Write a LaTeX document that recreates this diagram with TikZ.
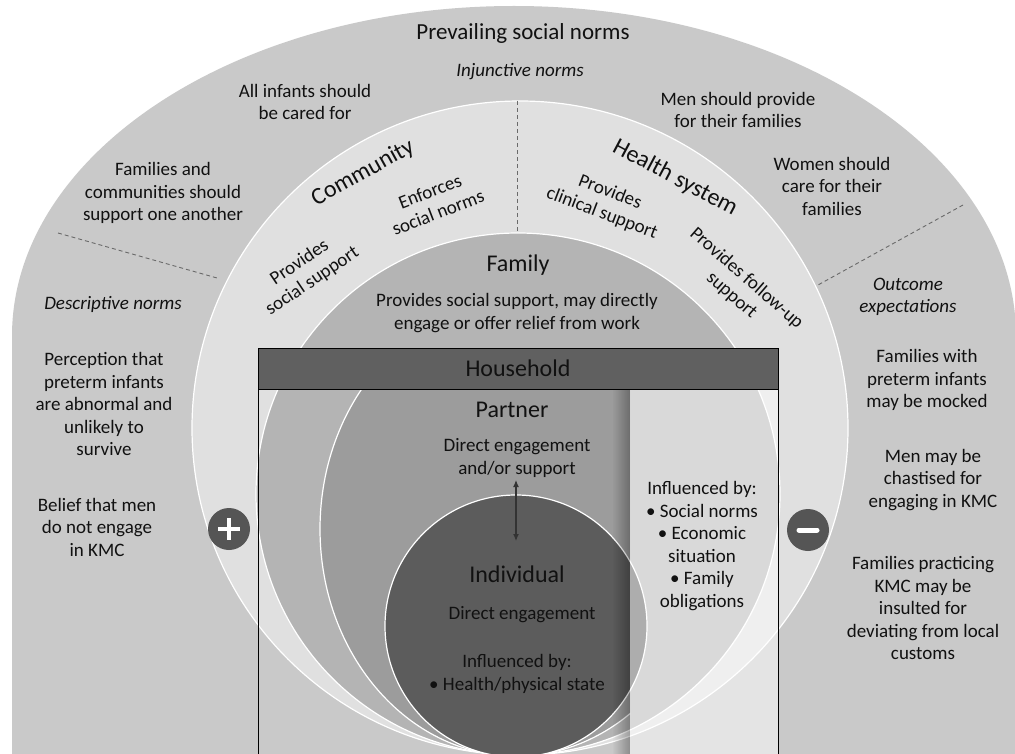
\documentclass[tikz,border=0pt]{standalone}
\usepackage{fontspec}
\setmainfont{Carlito}
\usetikzlibrary{fadings,arrows.meta}
\definecolor{outerg}{HTML}{C9C9C9}
\definecolor{ringg}{HTML}{E0E0E0}
\definecolor{famg}{HTML}{B4B4B4}
\definecolor{barg}{HTML}{606060}
\definecolor{partg}{HTML}{9C9C9C}
\definecolor{indg}{HTML}{5C5C5C}
\definecolor{signg}{HTML}{555555}
\definecolor{dashg}{HTML}{6A6A6A}
\definecolor{txt}{HTML}{111111}
\tikzfading[name=shadowfade, left color=transparent!100, right color=transparent!0]
\begin{document}
\begin{tikzpicture}[x=1pt,y=-1pt,
 every node/.style={text=txt, inner sep=0pt},
 body/.style={font=\fontsize{19}{22.5}\selectfont, align=center},
 bodyit/.style={font=\fontsize{19}{22.5}\selectfont\itshape, align=center},
 title/.style={font=\fontsize{24}{28}\selectfont, align=center},
 layer/.style={draw=white, line width=1.2pt},
 dashline/.style={draw=dashg, dash pattern=on 4pt off 3pt, line width=0.9pt},
 sign/.style={circle, fill=signg, minimum size=42pt, inner sep=0pt},
]
\fill[white] (0,0) rectangle (1015,754);
\useasboundingbox (0,0) rectangle (1015,754);
% outer arch
\fill[outerg] (12,754) -- (12,336) arc[start angle=180, end angle=360, x radius=502, y radius=330] -- (1016,754) -- cycle;
% community / health system ring
\path[fill=ringg, layer] (520,428) ellipse [x radius=328, y radius=327];
% family
\path[fill=famg, layer] (518,494) ellipse [x radius=262, y radius=261];
% partner (inside the household box, cut at the right strip)
\begin{scope}
\clip (258,389) rectangle (630,754);
\path[fill=partg, layer] (516,529) ellipse [x radius=196, y radius=227];
\end{scope}
% individual
\path[fill=indg, layer] (516,626) circle [radius=131];
% right strip overlay and shadow
\fill[white, opacity=0.5] (630,389) rectangle (778,754);
\fill[black, opacity=0.3, path fading=shadowfade] (612,389) rectangle (630,754);
% household box
\path[fill=barg, draw=black, line width=0.8pt] (258,348) rectangle (778,389);
\coordinate (bl1) at (258,389); \coordinate (bl2) at (258,754);
\coordinate (br1) at (778,389); \coordinate (br2) at (778,754);
\draw[black, line width=0.8pt] (bl1) -- (bl2) (br1) -- (br2);
% dashed separators
\coordinate (d1a) at (517,101); \coordinate (d1b) at (517,232);
\coordinate (d2a) at (58,233);  \coordinate (d2b) at (217,278);
\coordinate (d3a) at (963,205); \coordinate (d3b) at (818,285);
\draw[dashline] (d1a) -- (d1b);
\draw[dashline] (d2a) -- (d2b);
\draw[dashline] (d3a) -- (d3b);
% plus / minus
\node[sign] (plus) at (229,529) {};
\draw[white, line width=4.5pt] (218,529) -- (240,529) (229,518) -- (229,540);
\node[sign] (minus) at (808,530) {};
\draw[white, line width=5pt, line cap=round] (799,530) -- (817,530);
% arrow
\coordinate (atop) at (516,480);
\coordinate (abot) at (516,541);
\draw[{Latex[length=7pt,width=6pt]}-{Latex[length=7pt,width=6pt]}, line width=1.2pt, draw=black!80] (atop) -- (abot);
% outer texts
\node[font=\fontsize{23}{27}\selectfont] (psn) at (523,33) {Prevailing social norms};
\node[bodyit] (inj) at (520,72) {Injunctive norms};
\node[body] (t1) at (305,102) {All infants should\\be cared for};
\node[body] (t2) at (738,110) {Men should provide\\for their families};
\node[body] (t3) at (163,193) {Families and\\communities should\\support one another};
\node[body] (t4) at (832,186) {Women should\\care for their\\families};
\node[bodyit] (desc) at (113,304) {Descriptive norms};
\node[body] (t5) at (104,404) {Perception that\\preterm infants\\are abnormal and\\unlikely to\\survive};
\node[body] (t6) at (97,527) {Belief that men\\do not engage\\in KMC};
\node[bodyit] (oe) at (908,297) {Outcome\\expectations};
\node[body] (t7) at (927,380) {Families with\\preterm infants\\may be mocked};
\node[body] (t8) at (933,480) {Men may be\\chastised for\\engaging in KMC};
\node[body] (t9) at (923,608) {Families practicing\\KMC may be\\insulted for\\deviating from local\\customs};
% ring texts
\node[title, rotate=29] (comm) at (363,173) {Community};
\node[body, rotate=21] (enf) at (434,202) {Enforces\\social norms};
\node[body, rotate=34] (pss) at (306,272) {Provides\\social support};
\node[title, rotate=-28] (hs) at (675,178) {Health system};
\node[body, rotate=-21] (pcs) at (606,203) {Provides\\clinical support};
\node[body, rotate=-41] (pfs) at (739,287) {Provides follow-up\\support};
% inner texts
\node[title] (fam) at (518,265) {Family};
\node[body] (famt) at (517,313) {Provides social support, may directly\\engage or offer relief from work};
\node[title] (hh) at (518,368) {Household};
\node[title] (partner) at (512,410) {Partner};
\node[body] (pt) at (517,458) {Direct engagement\\and/or support};
\node[body] (inf) at (702,546) {Influenced by:\\• Social norms\\• Economic\\situation\\• Family\\obligations};
\node[title] (indiv) at (517,574) {Individual};
\node[body] (it) at (522,615) {Direct engagement};
\node[body] (it2) at (517,674) {Influenced by:\\• Health/physical state};
\end{tikzpicture}
\end{document}
